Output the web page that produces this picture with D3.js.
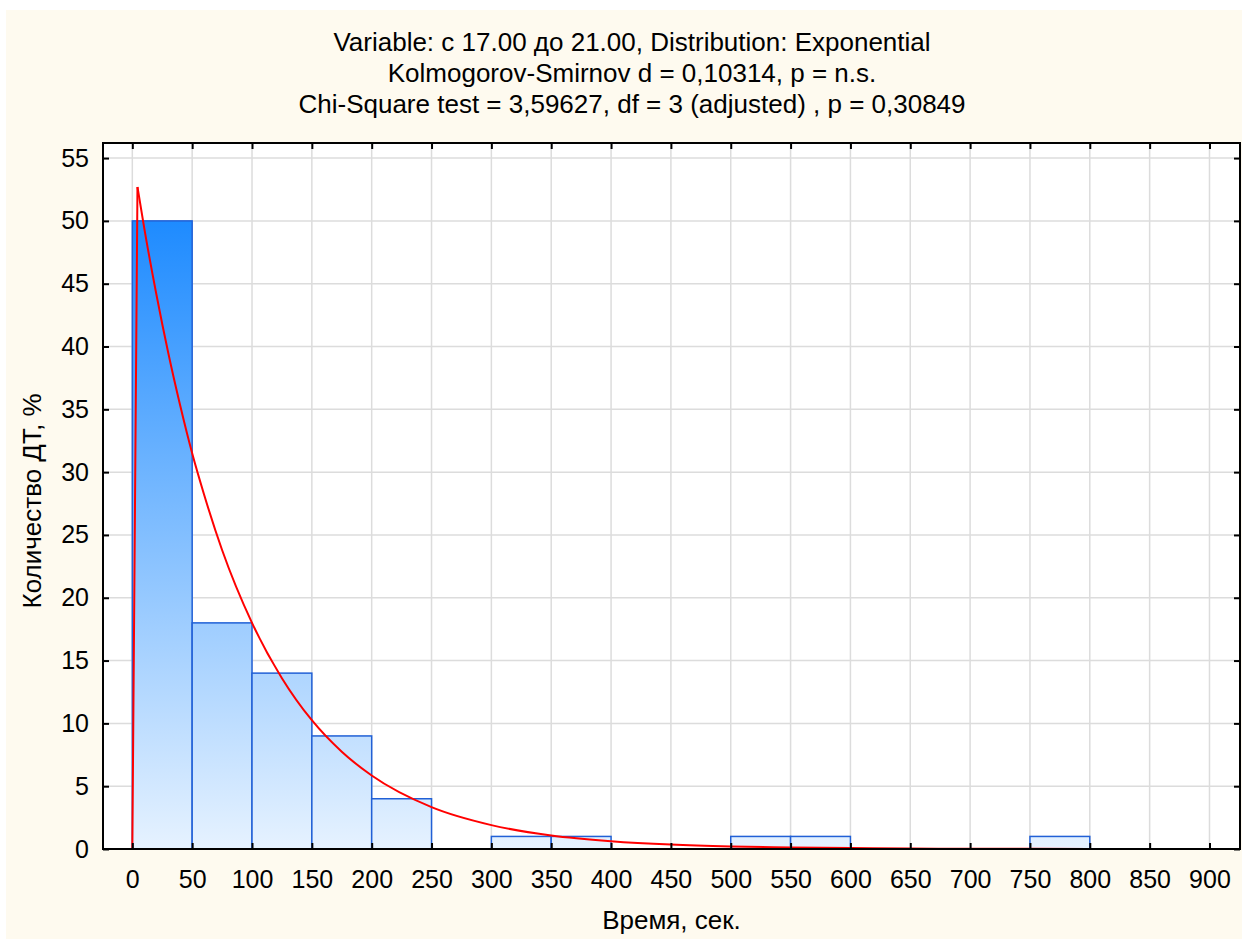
<!DOCTYPE html>
<html lang="ru">
<head>
<meta charset="utf-8">
<style>
  html, body { margin: 0; padding: 0; background: #ffffff; }
  svg { display: block; }
  text { font-family: "Liberation Sans", Arial, sans-serif; fill: #000; }
  .grid line { stroke: #dcdcdc; stroke-width: 1.5px; }
  .bar { stroke: #2160d6; stroke-width: 1.5px; }
  .fit { fill: none; stroke: #ff0000; stroke-width: 2px; }
</style>
<script src="https://cdn.jsdelivr.net/npm/d3@7"></script>
</head>
<body>
<div id="chart"></div>
<script>
// histogram bins (sec) and percent of cases
var binStart = [0, 50, 100, 150, 200, 250, 300, 350, 400, 450, 500, 550, 600, 650, 700, 750, 800, 850];
var binValue = [50, 18, 14, 9, 4, 0, 1, 1, 0, 0, 1, 1, 0, 0, 0, 1, 0, 0];
var binWidth = 50;

// fitted exponential curve
var curveX = [-24, 0, 4.3, 10, 20, 30, 40, 50, 60, 75, 100, 125, 150, 175, 200, 250, 300, 350, 400, 450, 500, 550, 600, 650, 700, 750, 800, 850, 900, 925];
var curveY = [0, 0, 52.7, 49.4, 44.2, 39.5, 35.3, 31.5, 28.2, 23.8, 18.0, 13.6, 10.25, 7.74, 5.85, 3.33, 1.9, 1.08, 0.62, 0.35, 0.2, 0.12, 0.07, 0.04, 0.02, 0.012, 0.007, 0.004, 0.002, 0.001];

var xTicks = d3.range(0, 901, 50);
var yTicks = d3.range(0, 56, 5);

var titleLines = [
  "Variable: с 17.00 до 21.00, Distribution: Exponential",
  "Kolmogorov-Smirnov d = 0,10314, p = n.s.",
  "Chi-Square test = 3,59627, df = 3 (adjusted) , p = 0,30849"
];
var xTitle = "Время, сек.";
var yTitle = "Количество ДТ, %";

var width = 1242, height = 939;
var plot = {left: 103, right: 1240, top: 143, bottom: 849};

var svg = d3.select("#chart").append("svg")
  .attr("width", width)
  .attr("height", height);

svg.append("rect")
  .attr("x", 6).attr("y", 10)
  .attr("width", width - 6).attr("height", height - 10)
  .attr("fill", "#fefaef");

var x = d3.scaleLinear().domain([-24.5, 925.5]).range([plot.left, plot.right]);
var y = d3.scaleLinear().domain([0, 56.2]).range([plot.bottom, plot.top]);

var defs = svg.append("defs");
var grad = defs.append("linearGradient")
  .attr("id", "barfill")
  .attr("gradientUnits", "userSpaceOnUse")
  .attr("x1", 0).attr("x2", 0)
  .attr("y1", y(0)).attr("y2", y(50));
grad.append("stop").attr("offset", "0%").attr("stop-color", "#e6f2ff");
grad.append("stop").attr("offset", "100%").attr("stop-color", "#1e8bff");

defs.append("clipPath").attr("id", "clip")
  .append("rect")
  .attr("x", plot.left).attr("y", plot.top)
  .attr("width", plot.right - plot.left).attr("height", plot.bottom - plot.top);

svg.append("rect")
  .attr("x", plot.left).attr("y", plot.top)
  .attr("width", plot.right - plot.left).attr("height", plot.bottom - plot.top)
  .attr("fill", "#ffffff");

// grid
var grid = svg.append("g").attr("class", "grid");
grid.selectAll(".gx").data(xTicks).enter().append("line")
  .attr("x1", d => x(d)).attr("x2", d => x(d))
  .attr("y1", plot.top).attr("y2", plot.bottom);
grid.selectAll(".gy").data(yTicks.filter(d => d > 0)).enter().append("line")
  .attr("x1", plot.left).attr("x2", plot.right)
  .attr("y1", d => y(d)).attr("y2", d => y(d));

// bars
var bins = binStart.map((s, i) => ({start: s, value: binValue[i]})).filter(d => d.value > 0);
svg.append("g").selectAll("rect").data(bins).enter().append("rect")
  .attr("class", "bar")
  .attr("x", d => x(d.start))
  .attr("width", d => x(d.start + binWidth) - x(d.start))
  .attr("y", d => y(d.value))
  .attr("height", d => y(0) - y(d.value))
  .attr("fill", "url(#barfill)");

// fitted curve: straight rise to the peak, smooth decay after it
var pts = d3.zip(curveX, curveY);
var rise = d3.line().x(d => x(d[0])).y(d => y(d[1]));
var decay = d3.line().x(d => x(d[0])).y(d => y(d[1])).curve(d3.curveMonotoneX);
var fit = svg.append("g").attr("clip-path", "url(#clip)");
fit.append("path").datum(pts.slice(0, 3)).attr("class", "fit").attr("d", rise);
fit.append("path").datum(pts.slice(2)).attr("class", "fit").attr("d", decay);

// axes, ticks inward on all four sides
var tl = 6;
var bottomAxis = d3.axisBottom(x).tickValues(xTicks).tickSize(-tl).tickPadding(21).tickFormat(d3.format("d"));
var topAxis = d3.axisTop(x).tickValues(xTicks).tickSize(-tl).tickFormat("");
var leftAxis = d3.axisLeft(y).tickValues(yTicks).tickSize(-tl).tickPadding(14).tickFormat(d3.format("d"));
var rightAxis = d3.axisRight(y).tickValues(yTicks).tickSize(-tl).tickFormat("");

function style(g) {
  g.select(".domain").remove();
  g.selectAll(".tick line").attr("stroke", "#000").attr("stroke-width", 2);
  g.selectAll(".tick text").style("font-size", "25px").attr("fill", "#000");
}

svg.append("g").attr("transform", "translate(0," + plot.bottom + ")").call(bottomAxis).call(style);
svg.append("g").attr("transform", "translate(0," + plot.top + ")").call(topAxis).call(style);
svg.append("g").attr("transform", "translate(" + plot.left + ",0)").call(leftAxis).call(style);
svg.append("g").attr("transform", "translate(" + plot.right + ",0)").call(rightAxis).call(style);

svg.append("rect")
  .attr("x", plot.left).attr("y", plot.top)
  .attr("width", plot.right - plot.left).attr("height", plot.bottom - plot.top)
  .attr("fill", "none").attr("stroke", "#000").attr("stroke-width", 2);

// titles
svg.selectAll(".title").data(titleLines).enter().append("text")
  .attr("x", 632).attr("y", (d, i) => 51 + i * 31)
  .attr("text-anchor", "middle")
  .style("font-size", "26px")
  .text(d => d);

svg.append("text")
  .attr("x", (plot.left + plot.right) / 2).attr("y", 929)
  .attr("text-anchor", "middle")
  .style("font-size", "26px")
  .text(xTitle);

svg.append("text")
  .attr("transform", "translate(41," + 501 + ") rotate(-90)")
  .attr("text-anchor", "middle")
  .style("font-size", "26px")
  .text(yTitle);
</script>
</body>
</html>
